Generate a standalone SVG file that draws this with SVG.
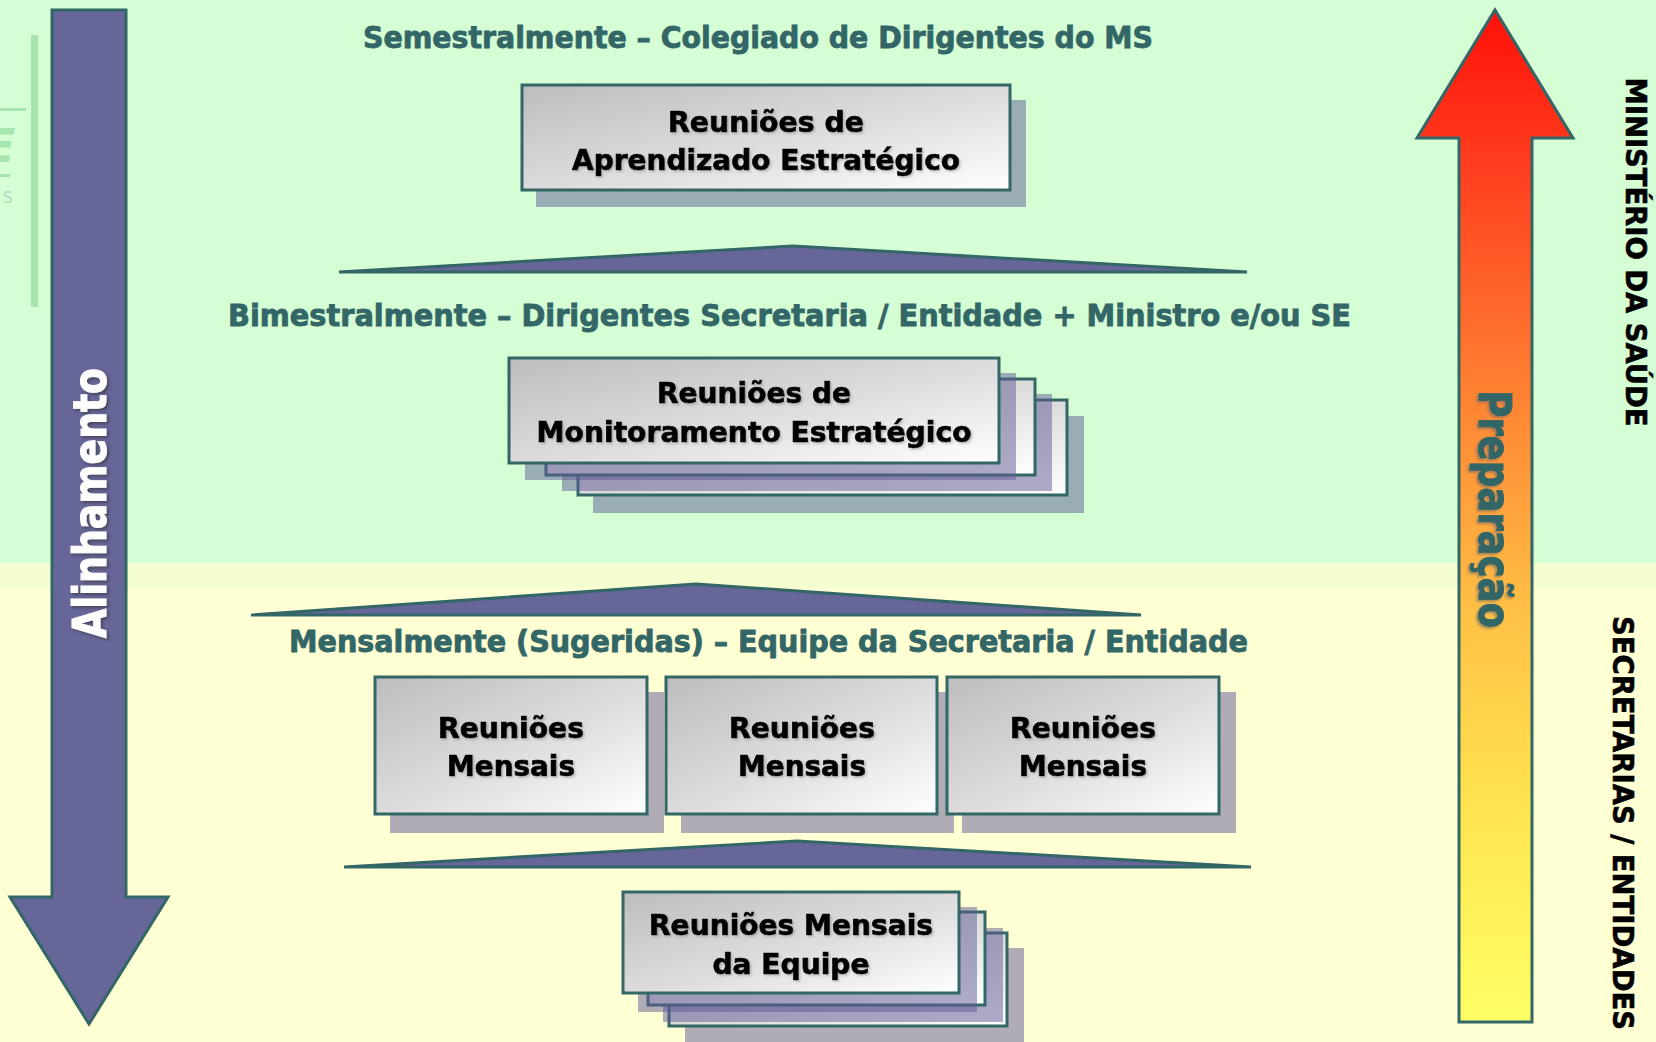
<svg xmlns="http://www.w3.org/2000/svg" width="1656" height="1042" viewBox="0 0 1656 1042">
<style>
.box{fill:url(#boxGrad);stroke:#336666;stroke-width:3}
.shd{fill:#5f5a96;fill-opacity:0.5}
.tri{fill:#666699;stroke:#336666;stroke-width:3;stroke-linejoin:miter}
.hdr{font-family:"DejaVu Sans Condensed","DejaVu Sans",sans-serif;font-weight:bold;font-size:31px;fill:#336666;stroke:#336666;stroke-width:0.8px}
.bt{font-family:"DejaVu Sans Condensed","DejaVu Sans",sans-serif;font-weight:bold;font-size:29px;fill:#000;stroke:#000;stroke-width:0.7px;text-anchor:middle}
.side{font-family:"DejaVu Sans Condensed","DejaVu Sans",sans-serif;font-weight:bold;font-size:29px;fill:#000;stroke:#000;stroke-width:0.6px;text-anchor:middle}
</style>
<defs>
<linearGradient id="boxGrad" x1="0" y1="0" x2="1" y2="1">
<stop offset="0" stop-color="#bdbdbd"/>
<stop offset="0.55" stop-color="#dedede"/>
<stop offset="1" stop-color="#ffffff"/>
</linearGradient>
<linearGradient id="upGrad" gradientUnits="userSpaceOnUse" x1="0" y1="10" x2="0" y2="1022">
<stop offset="0" stop-color="#ff1008"/>
<stop offset="0.15" stop-color="#ff3c1e"/>
<stop offset="0.4" stop-color="#ff8834"/>
<stop offset="0.6" stop-color="#ffc246"/>
<stop offset="0.8" stop-color="#ffe650"/>
<stop offset="1" stop-color="#ffff66"/>
</linearGradient>
<filter id="txtShd" x="-5%" y="-20%" width="110%" height="140%">
<feDropShadow dx="1.5" dy="1.5" stdDeviation="1" flood-color="#777777" flood-opacity="0.45"/>
</filter>
<filter id="glow" x="-20%" y="-10%" width="140%" height="120%">
<feDropShadow dx="2" dy="2" stdDeviation="1.5" flood-color="#333333" flood-opacity="0.6"/>
</filter>
<filter id="prepShd" x="-20%" y="-10%" width="140%" height="120%">
<feDropShadow dx="-2" dy="2" stdDeviation="1.2" flood-color="#666666" flood-opacity="0.55"/>
</filter>
</defs>

<g id="background">
<rect x="0" y="0" width="1656" height="563" fill="#d5fed5"/>
<rect x="0" y="563" width="1656" height="25" fill="#f3fdcf"/>
<rect x="0" y="588" width="1656" height="454" fill="#ffffd4"/>
</g>

<g id="faded-logo" fill="#a6e4b0">
<rect x="31" y="35" width="7" height="272"/>
<rect x="0" y="108" width="26" height="3"/>
<text x="-16" y="162" font-family="DejaVu Sans, sans-serif" font-weight="bold" font-style="italic" font-size="46" fill="#a6e4b0">E</text>
<rect x="0" y="174" width="10" height="3"/>
<text x="3" y="203" font-family="DejaVu Sans, sans-serif" font-size="15" fill="#b4d8bc">S</text>
</g>

<g id="arrow-alinhamento">
<polygon points="52,10 126,10 126,897 168,897 89,1024 10,897 52,897" fill="#666699" stroke="#336666" stroke-width="3"/>
<g filter="url(#glow)">
<text transform="translate(106,503) rotate(-90)" x="0" y="0" text-anchor="middle" font-family="DejaVu Sans Condensed, DejaVu Sans, sans-serif" font-weight="bold" font-size="47" fill="#ffffff" stroke="#ffffff" stroke-width="1" textLength="270" lengthAdjust="spacingAndGlyphs">Alinhamento</text>
</g>
</g>

<g id="arrow-preparacao">
<polygon points="1495,10 1573,138 1532,138 1532,1022 1459,1022 1459,138 1417,138" fill="url(#upGrad)" stroke="#336666" stroke-width="3"/>
<g filter="url(#prepShd)">
<text transform="translate(1479,509) rotate(90)" x="0" y="0" text-anchor="middle" font-family="DejaVu Sans Condensed, DejaVu Sans, sans-serif" font-weight="bold" font-size="45" fill="#336666" stroke="#336666" stroke-width="1" textLength="238" lengthAdjust="spacingAndGlyphs">Preparação</text>
</g>
</g>

<g id="side-labels">
<text class="side" transform="translate(1626,252) rotate(90)" textLength="349" lengthAdjust="spacingAndGlyphs">MINISTÉRIO DA SAÚDE</text>
<text class="side" transform="translate(1613,823) rotate(90)" textLength="414" lengthAdjust="spacingAndGlyphs">SECRETARIAS / ENTIDADES</text>
</g>

<g id="headers">
<text class="hdr" x="363" y="48" textLength="790" lengthAdjust="spacingAndGlyphs">Semestralmente – Colegiado de Dirigentes do MS</text>
<text class="hdr" x="228" y="326" textLength="1123" lengthAdjust="spacingAndGlyphs">Bimestralmente – Dirigentes Secretaria / Entidade + Ministro e/ou SE</text>
<text class="hdr" x="289" y="652" textLength="959" lengthAdjust="spacingAndGlyphs">Mensalmente (Sugeridas) – Equipe da Secretaria / Entidade</text>
</g>

<g id="connectors">
<polygon class="tri" points="339,272 793,246 1247,272"/>
<polygon class="tri" points="251,615 696,584 1141,615"/>
<polygon class="tri" points="344,867 797,841 1251,867"/>
</g>

<g id="node-aprendizado">
<rect class="shd" x="536" y="100" width="490" height="107"/>
<rect class="box" x="522" y="85" width="488" height="105"/>
<g filter="url(#txtShd)">
<text class="bt" x="766" y="132" textLength="196" lengthAdjust="spacingAndGlyphs">Reuniões de</text>
<text class="bt" x="766" y="170" textLength="388" lengthAdjust="spacingAndGlyphs">Aprendizado Estratégico</text>
</g>
</g>

<g id="node-monitoramento">
<rect class="shd" x="593" y="416" width="491" height="97"/>
<rect class="box" x="578" y="400" width="489" height="95"/>
<rect class="shd" x="562" y="394" width="490" height="97"/>
<rect class="box" x="546" y="379" width="489" height="96"/>
<rect class="shd" x="525" y="373" width="491" height="107"/>
<rect class="box" x="509" y="358" width="490" height="105"/>
<g filter="url(#txtShd)">
<text class="bt" x="754" y="403" textLength="194" lengthAdjust="spacingAndGlyphs">Reuniões de</text>
<text class="bt" x="754" y="442" textLength="435" lengthAdjust="spacingAndGlyphs">Monitoramento Estratégico</text>
</g>
</g>

<g id="node-mensal-1">
<rect class="shd" x="390" y="692" width="274" height="141"/>
<rect class="box" x="375" y="677" width="272" height="137"/>
<g filter="url(#txtShd)">
<text class="bt" x="511" y="738" textLength="146" lengthAdjust="spacingAndGlyphs">Reuniões</text>
<text class="bt" x="511" y="776" textLength="128" lengthAdjust="spacingAndGlyphs">Mensais</text>
</g>
</g>

<g id="node-mensal-2">
<rect class="shd" x="681" y="692" width="273" height="141"/>
<rect class="box" x="666" y="677" width="271" height="137"/>
<g filter="url(#txtShd)">
<text class="bt" x="802" y="738" textLength="146" lengthAdjust="spacingAndGlyphs">Reuniões</text>
<text class="bt" x="802" y="776" textLength="128" lengthAdjust="spacingAndGlyphs">Mensais</text>
</g>
</g>

<g id="node-mensal-3">
<rect class="shd" x="962" y="692" width="274" height="141"/>
<rect class="box" x="947" y="677" width="272" height="137"/>
<g filter="url(#txtShd)">
<text class="bt" x="1083" y="738" textLength="146" lengthAdjust="spacingAndGlyphs">Reuniões</text>
<text class="bt" x="1083" y="776" textLength="128" lengthAdjust="spacingAndGlyphs">Mensais</text>
</g>
</g>

<g id="node-equipe">
<rect class="shd" x="685" y="948" width="339" height="94"/>
<rect class="box" x="669" y="933" width="338" height="93"/>
<rect class="shd" x="663" y="928" width="340" height="94"/>
<rect class="box" x="648" y="912" width="337" height="93"/>
<rect class="shd" x="638" y="907" width="339" height="105"/>
<rect class="box" x="623" y="892" width="336" height="101"/>
<g filter="url(#txtShd)">
<text class="bt" x="791" y="935" textLength="284" lengthAdjust="spacingAndGlyphs">Reuniões Mensais</text>
<text class="bt" x="791" y="974" textLength="157" lengthAdjust="spacingAndGlyphs">da Equipe</text>
</g>
</g>
</svg>
